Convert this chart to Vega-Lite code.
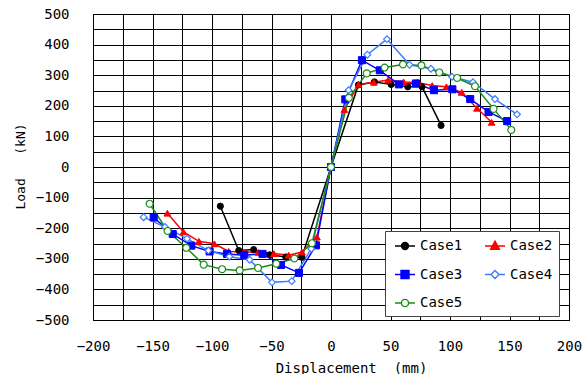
{
  "$schema": "https://vega.github.io/schema/vega-lite/v6.json",
  "width": 476,
  "height": 306,
  "autosize": {"type": "none"},
  "padding": {"left": 93, "top": 14, "right": 14, "bottom": 54},
  "background": "white",
  "config": {
    "view": {"stroke": "#000", "strokeWidth": 1},
    "font": "DejaVu Sans Mono"
  },
  "data": {
    "values": [
      {"case": "Case1", "disp": -93, "load": -128},
      {"case": "Case1", "disp": -77.5, "load": -273},
      {"case": "Case1", "disp": -65, "load": -270},
      {"case": "Case1", "disp": -51.5, "load": -287},
      {"case": "Case1", "disp": -38, "load": -294},
      {"case": "Case1", "disp": -24.5, "load": -295},
      {"case": "Case1", "disp": 0, "load": 0},
      {"case": "Case1", "disp": 23, "load": 268},
      {"case": "Case1", "disp": 36.5, "load": 278},
      {"case": "Case1", "disp": 50.5, "load": 270},
      {"case": "Case1", "disp": 64.5, "load": 262},
      {"case": "Case1", "disp": 76.5, "load": 262},
      {"case": "Case1", "disp": 92.5, "load": 136},

      {"case": "Case2", "disp": -137.5, "load": -151},
      {"case": "Case2", "disp": -124, "load": -212},
      {"case": "Case2", "disp": -111, "load": -243},
      {"case": "Case2", "disp": -98, "load": -251},
      {"case": "Case2", "disp": -86, "load": -276},
      {"case": "Case2", "disp": -73.4, "load": -278},
      {"case": "Case2", "disp": -61, "load": -279},
      {"case": "Case2", "disp": -48, "load": -283},
      {"case": "Case2", "disp": -35.6, "load": -288},
      {"case": "Case2", "disp": -24.4, "load": -278},
      {"case": "Case2", "disp": -11.8, "load": -229},
      {"case": "Case2", "disp": 0, "load": 0},
      {"case": "Case2", "disp": 11.2, "load": 188},
      {"case": "Case2", "disp": 23.2, "load": 270},
      {"case": "Case2", "disp": 36, "load": 277},
      {"case": "Case2", "disp": 48, "load": 284},
      {"case": "Case2", "disp": 61, "load": 278},
      {"case": "Case2", "disp": 72.5, "load": 276},
      {"case": "Case2", "disp": 85, "load": 266},
      {"case": "Case2", "disp": 97, "load": 262},
      {"case": "Case2", "disp": 109.8, "load": 244},
      {"case": "Case2", "disp": 122.7, "load": 192},
      {"case": "Case2", "disp": 135, "load": 146},

      {"case": "Case3", "disp": -149, "load": -165},
      {"case": "Case3", "disp": -133, "load": -219},
      {"case": "Case3", "disp": -117.4, "load": -257},
      {"case": "Case3", "disp": -102, "load": -276},
      {"case": "Case3", "disp": -87.4, "load": -284},
      {"case": "Case3", "disp": -72.9, "load": -288},
      {"case": "Case3", "disp": -57.5, "load": -284},
      {"case": "Case3", "disp": -42, "load": -320},
      {"case": "Case3", "disp": -26.9, "load": -346},
      {"case": "Case3", "disp": -12.6, "load": -256},
      {"case": "Case3", "disp": 0, "load": 0},
      {"case": "Case3", "disp": 12, "load": 221},
      {"case": "Case3", "disp": 26, "load": 349},
      {"case": "Case3", "disp": 41, "load": 316},
      {"case": "Case3", "disp": 57, "load": 270},
      {"case": "Case3", "disp": 71.4, "load": 273},
      {"case": "Case3", "disp": 86.5, "load": 251},
      {"case": "Case3", "disp": 102, "load": 254},
      {"case": "Case3", "disp": 117, "load": 222},
      {"case": "Case3", "disp": 132.4, "load": 180},
      {"case": "Case3", "disp": 148, "load": 150},

      {"case": "Case4", "disp": -157.5, "load": -164},
      {"case": "Case4", "disp": -139.5, "load": -196},
      {"case": "Case4", "disp": -121, "load": -234},
      {"case": "Case4", "disp": -103, "load": -273},
      {"case": "Case4", "disp": -85.4, "load": -293},
      {"case": "Case4", "disp": -68.4, "load": -303},
      {"case": "Case4", "disp": -49.6, "load": -377},
      {"case": "Case4", "disp": -33, "load": -373},
      {"case": "Case4", "disp": -16.6, "load": -267},
      {"case": "Case4", "disp": 0, "load": 0},
      {"case": "Case4", "disp": 14.8, "load": 251},
      {"case": "Case4", "disp": 30.5, "load": 367},
      {"case": "Case4", "disp": 47, "load": 418},
      {"case": "Case4", "disp": 66, "load": 334},
      {"case": "Case4", "disp": 84, "load": 321},
      {"case": "Case4", "disp": 101.7, "load": 295},
      {"case": "Case4", "disp": 119.3, "load": 277},
      {"case": "Case4", "disp": 137.8, "load": 222},
      {"case": "Case4", "disp": 156.3, "load": 172},

      {"case": "Case5", "disp": -152.4, "load": -120},
      {"case": "Case5", "disp": -137.3, "load": -209},
      {"case": "Case5", "disp": -121.6, "load": -264},
      {"case": "Case5", "disp": -107, "load": -319},
      {"case": "Case5", "disp": -91.5, "load": -334},
      {"case": "Case5", "disp": -76.8, "load": -338},
      {"case": "Case5", "disp": -61.3, "load": -330},
      {"case": "Case5", "disp": -46, "load": -316},
      {"case": "Case5", "disp": -30.8, "load": -299},
      {"case": "Case5", "disp": -16, "load": -249},
      {"case": "Case5", "disp": 0, "load": 0},
      {"case": "Case5", "disp": 15, "load": 226},
      {"case": "Case5", "disp": 30, "load": 306},
      {"case": "Case5", "disp": 45, "load": 325},
      {"case": "Case5", "disp": 60.5, "load": 335},
      {"case": "Case5", "disp": 76, "load": 332},
      {"case": "Case5", "disp": 91, "load": 309},
      {"case": "Case5", "disp": 106, "load": 291},
      {"case": "Case5", "disp": 121, "load": 264},
      {"case": "Case5", "disp": 136.6, "load": 190},
      {"case": "Case5", "disp": 151.5, "load": 121}
    ]
  },
  "encoding": {
    "x": {
      "field": "disp",
      "type": "quantitative",
      "scale": {"domain": [-200, 200], "nice": false, "zero": false},
      "axis": {
        "values": [-200, -175, -150, -125, -100, -75, -50, -25, 0, 25, 50, 75, 100, 125, 150, 175, 200],
        "labelExpr": "datum.value % 50 === 0 ? datum.label : ''",
        "grid": true,
        "gridColor": "#000",
        "gridOpacity": 1,
        "gridWidth": 1,
        "ticks": false,
        "domainColor": "#000",
        "labelFont": "DejaVu Sans Mono",
        "labelFontSize": 14,
        "labelColor": "#000",
        "labelPadding": 19,
        "labelFlush": false,
        "labelOverlap": false,
        "title": "Displacement\u00a0\u00a0(mm)",
        "titleFont": "DejaVu Sans Mono",
        "titleFontSize": 14,
        "titleFontWeight": "normal",
        "titleColor": "#000",
        "titleX": 258,
        "titleY": 52,
        "titleAlign": "center",
        "titleBaseline": "alphabetic"
      }
    },
    "y": {
      "field": "load",
      "type": "quantitative",
      "scale": {"domain": [-500, 500], "nice": false, "zero": false},
      "axis": {
        "values": [-500, -450, -400, -350, -300, -250, -200, -150, -100, -50, 0, 50, 100, 150, 200, 250, 300, 350, 400, 450, 500],
        "labelExpr": "datum.value % 100 === 0 ? datum.label : ''",
        "grid": true,
        "gridColor": "#000",
        "gridOpacity": 1,
        "gridWidth": 1,
        "ticks": false,
        "domainColor": "#000",
        "labelFont": "DejaVu Sans Mono",
        "labelFontSize": 14,
        "labelColor": "#000",
        "labelPadding": 24,
        "labelFlush": false,
        "labelOverlap": false,
        "title": "Load\u00a0\u00a0\u00a0(kN)",
        "titleFont": "DejaVu Sans Mono",
        "titleFontSize": 13,
        "titleFontWeight": "normal",
        "titleColor": "#000",
        "titleX": -73,
        "titleY": 152,
        "titleAngle": -90,
        "titleAlign": "center",
        "titleBaseline": "middle"
      }
    }
  },
  "layer": [
    {
      "mark": {"type": "line", "strokeWidth": 1.5},
      "encoding": {
        "stroke": {
          "field": "case",
          "type": "nominal",
          "scale": {
            "domain": ["Case1", "Case2", "Case3", "Case4", "Case5"],
            "range": ["#000000", "#ff0000", "#0000ff", "#3c7dff", "#1a8c1a"]
          },
          "legend": {
            "title": null,
            "orient": "none",
            "legendX": 292,
            "legendY": 217,
            "columns": 2,
            "direction": "horizontal",
            "padding": 6,
            "strokeColor": "#444",
            "fillColor": "white",
            "cornerRadius": 0,
            "labelFont": "DejaVu Sans Mono",
            "labelFontSize": 14,
            "labelColor": "#000",
            "labelOffset": 6,
            "symbolSize": 256,
            "symbolStrokeWidth": 1.4,
            "symbolOpacity": 1,
            "symbolOffset": 5,
            "columnPadding": 18,
            "rowPadding": 12.5
          }
        }
      }
    },
    {
      "transform": [{"filter": "datum.case === 'Case1'"}],
      "mark": {"type": "point", "shape": "circle", "fill": "#000000", "stroke": "#000000", "strokeWidth": 1, "size": 38, "opacity": 1}
    },
    {
      "transform": [{"filter": "datum.case === 'Case2'"}],
      "mark": {"type": "point", "shape": "triangle-up", "fill": "#ff0000", "stroke": "#ff0000", "strokeWidth": 1, "size": 45, "opacity": 1}
    },
    {
      "transform": [{"filter": "datum.case === 'Case3'"}],
      "mark": {"type": "point", "shape": "square", "fill": "#0000ff", "stroke": "#0000ff", "strokeWidth": 1, "size": 50, "opacity": 1}
    },
    {
      "transform": [{"filter": "datum.case === 'Case4'"}],
      "mark": {"type": "point", "shape": "diamond", "fill": "#ffffff", "stroke": "#3c7dff", "strokeWidth": 1.2, "size": 45, "opacity": 1}
    },
    {
      "transform": [{"filter": "datum.case === 'Case5'"}],
      "mark": {"type": "point", "shape": "circle", "fill": "#ffffff", "stroke": "#1a8c1a", "strokeWidth": 1.2, "size": 48, "opacity": 1}
    },
    {
      "transform": [{"filter": "datum.load > 1000"}],
      "mark": {"type": "point", "filled": false, "strokeWidth": 1.4},
      "encoding": {
        "fill": {
          "field": "case",
          "type": "nominal",
          "scale": {
            "domain": ["Case1", "Case2", "Case3", "Case4", "Case5"],
            "range": ["#000000", "#ff0000", "#0000ff", "#ffffff", "#ffffff"]
          },
          "legend": {
            "title": null,
            "orient": "none",
            "legendX": 292,
            "legendY": 217,
            "columns": 2,
            "direction": "horizontal",
            "padding": 6,
            "strokeColor": "#444",
            "fillColor": "white",
            "cornerRadius": 0,
            "labelFont": "DejaVu Sans Mono",
            "labelFontSize": 14,
            "labelColor": "#000",
            "labelOffset": 6,
            "symbolSize": 256,
            "symbolStrokeWidth": 1.4,
            "symbolOpacity": 1,
            "symbolOffset": 5,
            "columnPadding": 18,
            "rowPadding": 12.5
          }
        },
        "shape": {
          "field": "case",
          "type": "nominal",
          "scale": {
            "domain": ["Case1", "Case2", "Case3", "Case4", "Case5"],
            "range": [
              "M-1.25,0H-0.44M0.44,0H1.25M-0.44,0A0.44,0.44,0,1,0,0.44,0A0.44,0.44,0,1,0,-0.44,0Z",
              "M-1.25,0H-0.3M0.3,0H1.25M0,-0.6L0.55,0.4L-0.55,0.4Z",
              "M-1.25,0H-0.5M0.5,0H1.25M-0.5,-0.5H0.5V0.5H-0.5Z",
              "M-1.25,0H-0.5M0.5,0H1.25M0,-0.5L0.5,0L0,0.5L-0.5,0Z",
              "M-1.25,0H-0.45M0.45,0H1.25M-0.45,0A0.45,0.45,0,1,0,0.45,0A0.45,0.45,0,1,0,-0.45,0Z"
            ]
          },
          "legend": {
            "title": null,
            "orient": "none",
            "legendX": 292,
            "legendY": 217,
            "columns": 2,
            "direction": "horizontal",
            "padding": 6,
            "strokeColor": "#444",
            "fillColor": "white",
            "cornerRadius": 0,
            "labelFont": "DejaVu Sans Mono",
            "labelFontSize": 14,
            "labelColor": "#000",
            "labelOffset": 6,
            "symbolSize": 256,
            "symbolStrokeWidth": 1.4,
            "symbolOpacity": 1,
            "symbolOffset": 5,
            "columnPadding": 18,
            "rowPadding": 12.5
          }
        }
      }
    }
  ]
}
